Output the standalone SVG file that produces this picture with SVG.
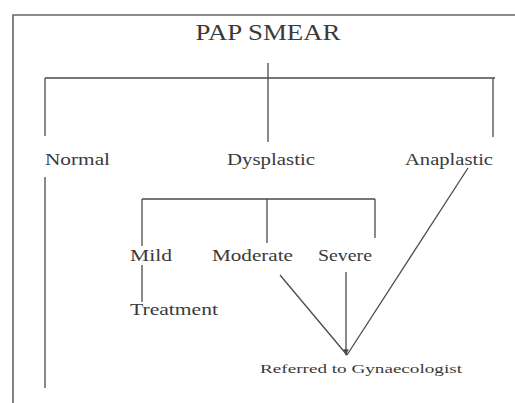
<svg xmlns="http://www.w3.org/2000/svg" width="515" height="403" viewBox="0 0 515 403">
<defs>
<style>
.t{font-family:"Liberation Serif","Times New Roman",serif;fill:#3a3a3a;}
.c line,.c path{stroke:#4a4a4a;stroke-width:1.3;fill:none;}
.f{stroke:#666;stroke-width:1.6;fill:none;}
</style>
<marker id="ah" viewBox="0 0 10 10" refX="9" refY="5" markerWidth="5" markerHeight="5" orient="auto">
<path d="M0,1 L10,5 L0,9 z" fill="#4a4a4a"/>
</marker>
</defs>
<rect width="515" height="403" fill="#fff"/>
<path class="f" d="M13,403 V15 H515"/>
<g class="c" id="connectors">
<line x1="268" y1="63" x2="268" y2="78"/>
<line x1="45" y1="78" x2="495" y2="78"/>
<line x1="45" y1="78" x2="45" y2="136"/>
<line x1="268" y1="78" x2="268" y2="142"/>
<line x1="493" y1="78" x2="493" y2="137"/>
<line x1="45" y1="177" x2="45" y2="388"/>
<line x1="142" y1="199" x2="375" y2="199"/>
<line x1="142" y1="199" x2="142" y2="246"/>
<line x1="267" y1="199" x2="267" y2="243"/>
<line x1="375" y1="199" x2="375" y2="238"/>
<line x1="142" y1="265" x2="142" y2="302"/>
<line x1="280" y1="275" x2="347" y2="355"/>
<line x1="346" y1="272" x2="346" y2="355" marker-end="url(#ah)"/>
<line x1="468" y1="168" x2="347" y2="355"/>
</g>
<g id="pap"><text class="t" x="268" y="40" font-size="23" text-anchor="middle" textLength="145" lengthAdjust="spacingAndGlyphs">PAP SMEAR</text></g>
<g id="normal"><text class="t" x="45" y="165" font-size="16" textLength="65" lengthAdjust="spacingAndGlyphs">Normal</text></g>
<g id="dysplastic"><text class="t" x="227" y="165" font-size="16" textLength="88" lengthAdjust="spacingAndGlyphs">Dysplastic</text></g>
<g id="anaplastic"><text class="t" x="405" y="165" font-size="16" textLength="88" lengthAdjust="spacingAndGlyphs" fill="#5a4048">Anaplastic</text></g>
<g id="mild"><text class="t" x="130" y="261" font-size="16" textLength="42" lengthAdjust="spacingAndGlyphs">Mild</text></g>
<g id="moderate"><text class="t" x="212" y="261" font-size="16" textLength="81" lengthAdjust="spacingAndGlyphs">Moderate</text></g>
<g id="severe"><text class="t" x="318" y="261" font-size="16" textLength="54" lengthAdjust="spacingAndGlyphs">Severe</text></g>
<g id="treatment"><text class="t" x="130" y="315" font-size="16" textLength="88" lengthAdjust="spacingAndGlyphs">Treatment</text></g>
<g id="referred"><text class="t" x="260" y="373" font-size="12.5" textLength="202" lengthAdjust="spacingAndGlyphs">Referred to Gynaecologist</text></g>
</svg>
